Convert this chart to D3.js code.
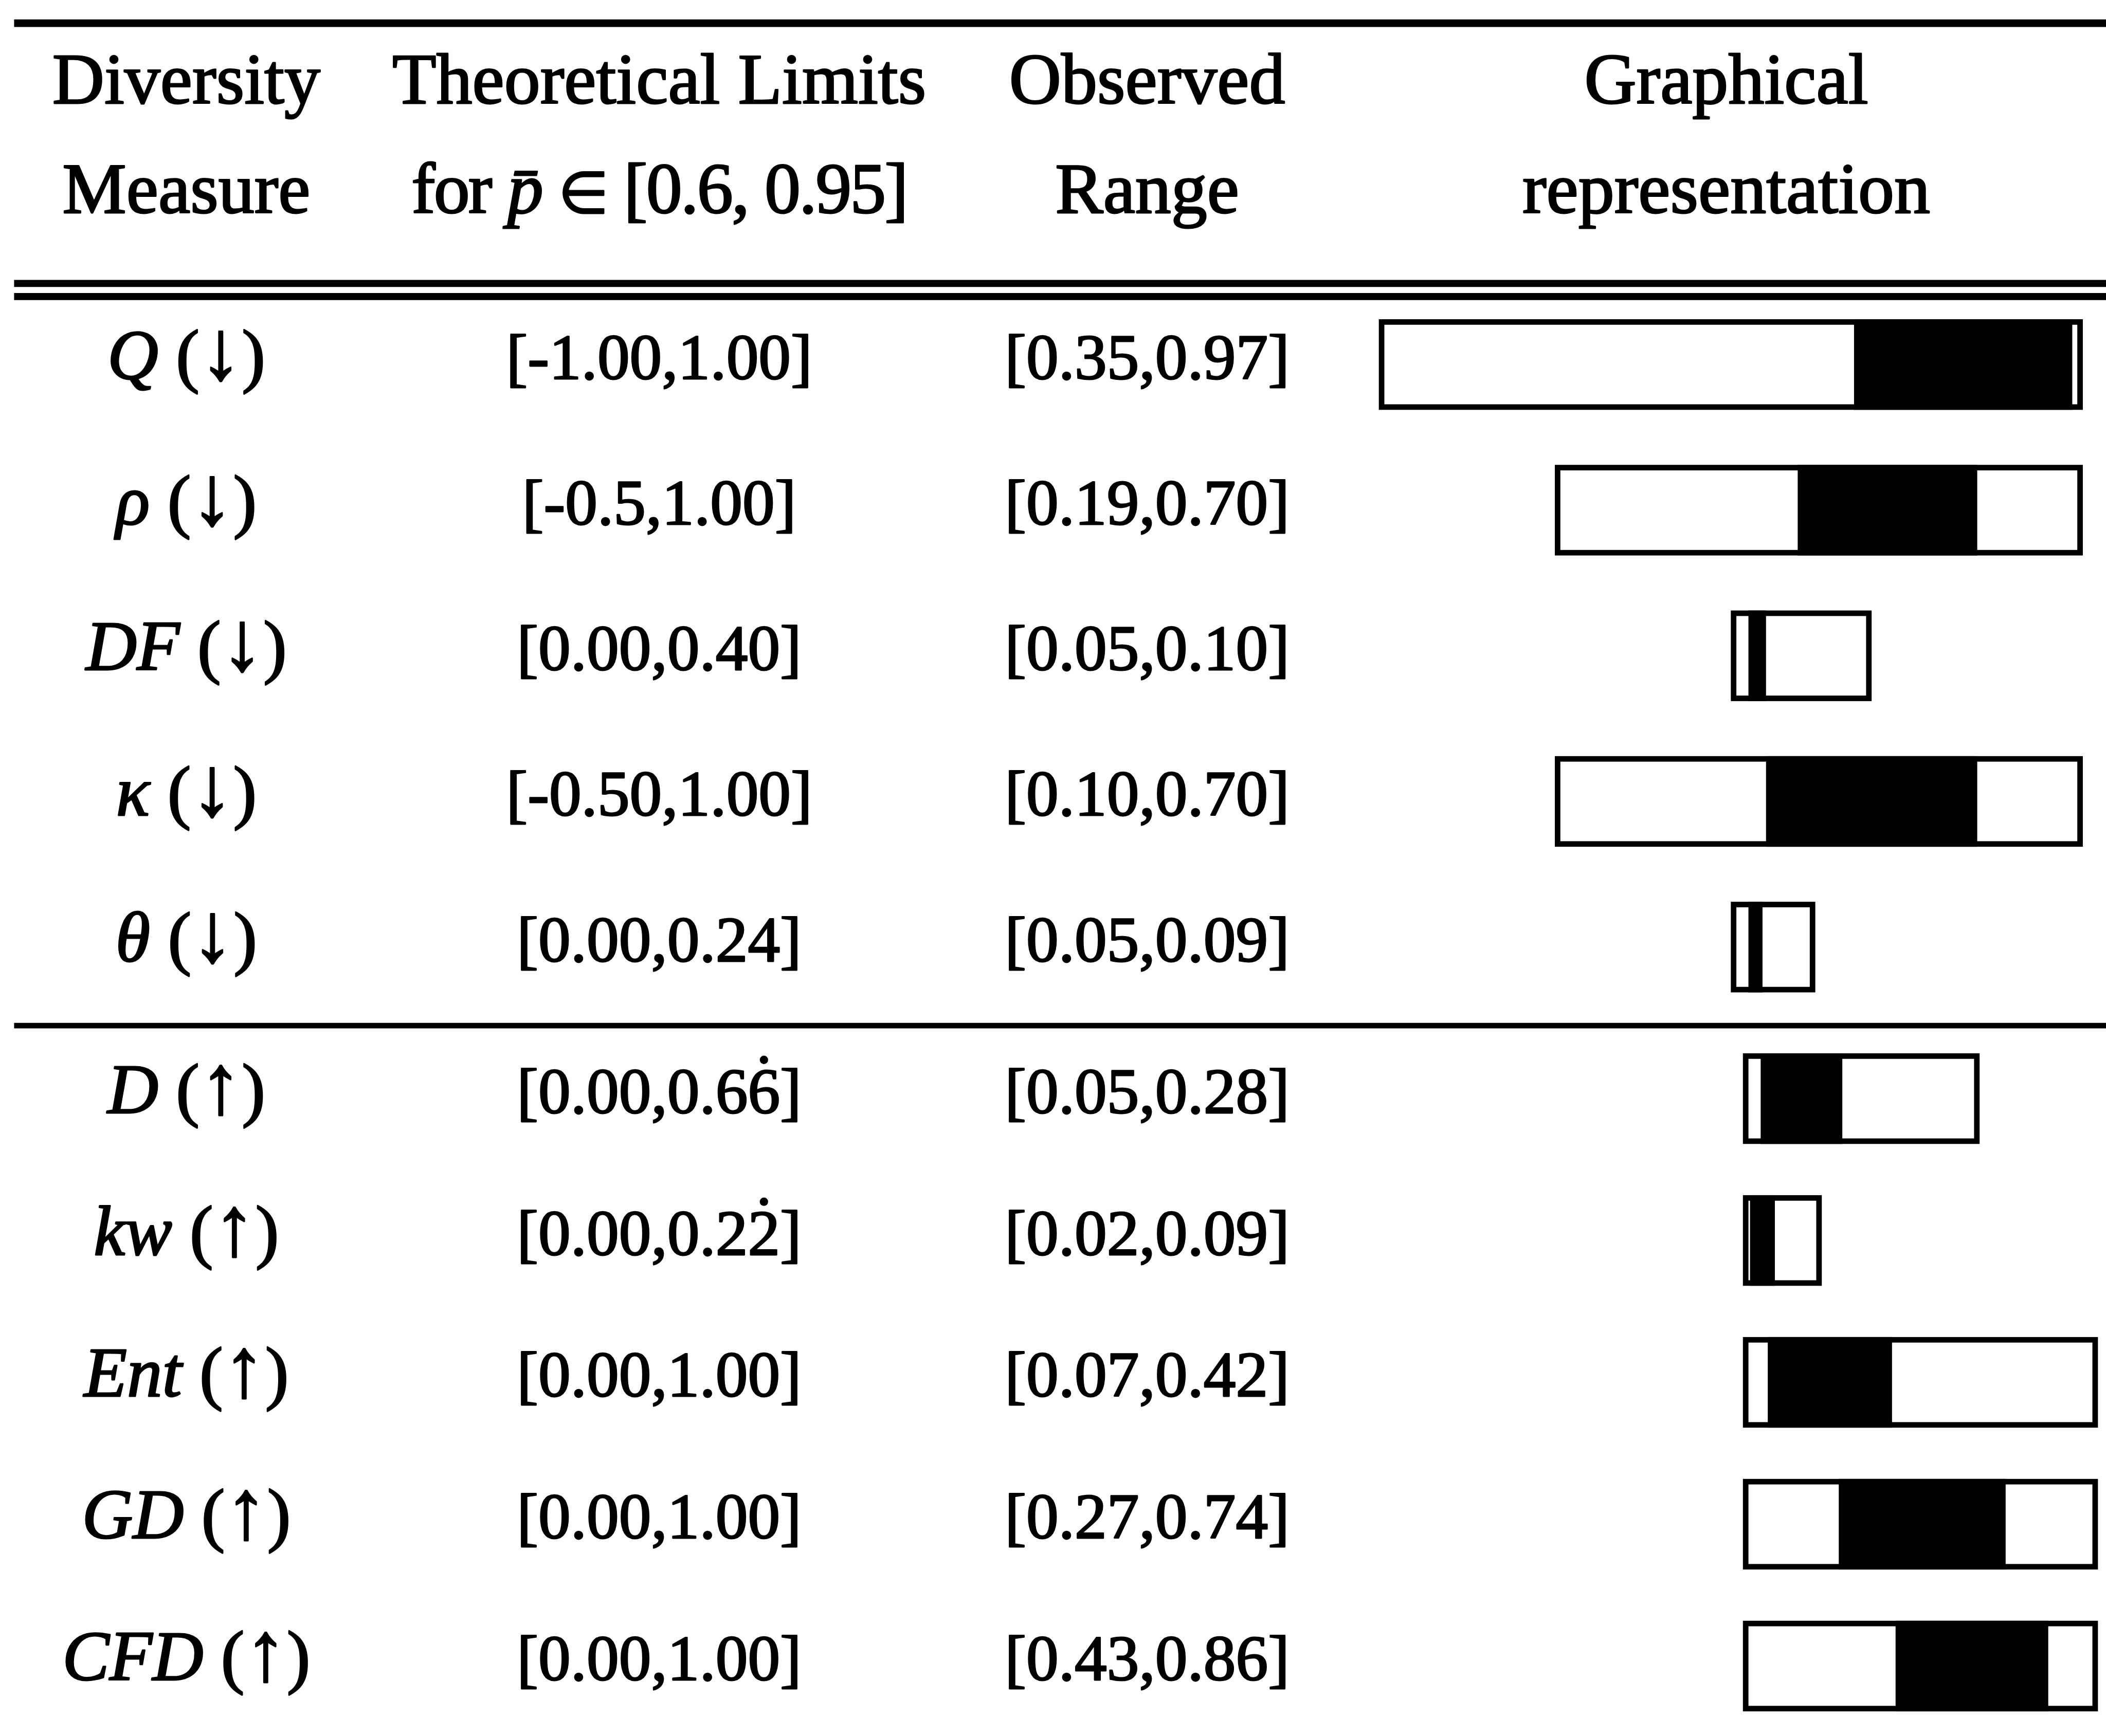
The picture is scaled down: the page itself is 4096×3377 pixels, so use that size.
<!DOCTYPE html>
<html><head><meta charset="utf-8">
<script src="https://cdn.jsdelivr.net/npm/d3@7"></script>
<style>
html,body{margin:0;padding:0;background:#fff;}
svg{display:block;}
</style></head>
<body>
<svg id="chart" width="4096" height="3377"></svg>
<script>
// Diversity measures, their theoretical limits and the observed ranges
const measures   = ["Q", "ρ", "DF", "κ", "θ", "D", "kw", "Ent", "GD", "CFD"];
const directions = ["↓", "↓", "↓", "↓", "↓", "↑", "↑", "↑", "↑", "↑"];
const groups     = [0, 0, 0, 0, 0, 1, 1, 1, 1, 1];
const theoLow    = [-1.00, -0.5, 0.00, -0.50, 0.00, 0.00, 0.00, 0.00, 0.00, 0.00];
const theoHigh   = [1.00, 1.00, 0.40, 1.00, 0.24, 0.6667, 0.2222, 1.00, 1.00, 1.00];
// a combining dot (U+0307) marks a recurring digit
const theoText   = ["[-1.00,1.00]", "[-0.5,1.00]", "[0.00,0.40]", "[-0.50,1.00]", "[0.00,0.24]",
                    "[0.00,0.66\u0307]", "[0.00,0.22\u0307]", "[0.00,1.00]", "[0.00,1.00]", "[0.00,1.00]"];
const obsLow     = [0.35, 0.19, 0.05, 0.10, 0.05, 0.05, 0.02, 0.07, 0.27, 0.43];
const obsHigh    = [0.97, 0.70, 0.10, 0.70, 0.09, 0.28, 0.09, 0.42, 0.74, 0.86];
const headerTop  = ["Diversity", "Theoretical Limits", "Observed", "Graphical"];
const headerBot  = ["Measure", null, "Range", "representation"];

const rows = measures.map((m, i) => ({
  m, dir: directions[i], g: groups[i],
  tLo: theoLow[i], tHi: theoHigh[i], tTxt: theoText[i],
  oLo: obsLow[i], oHi: obsHigh[i]
}));

const FONT = "'Liberation Serif','Times New Roman',serif";
const W = 4182, H = 3448, S = 4096 / W;

const svg = d3.select("#chart");
const root = svg.append("g").attr("transform", `scale(${S})`);
root.append("rect").attr("width", W).attr("height", H).attr("fill", "#fff");

// column centres
const colX = [370, 1309, 2278, 3428];

// row positions: two blocks separated by a rule
const yTop = d3.scalePoint().domain(measures.slice(0, 5)).range([752, 1909]);
const yBot = d3.scalePoint().domain(measures.slice(5)).range([2210, 3337]);
const baseY = r => (r.g === 0 ? yTop : yBot)(r.m);

// value axes of the graphical column, one per block
const xTop = d3.scaleLinear().domain([-1, 1]).range([2738, 4136]);
const xBot = d3.scaleLinear().domain([0, 1]).range([3461, 4166]);
const xOf = r => (r.g === 0 ? xTop : xBot);

const ink = sel => sel.attr("fill", "#000").attr("stroke", "#000")
  .attr("stroke-width", 3).attr("stroke-linejoin", "round")
  .attr("font-family", FONT);

// horizontal rules
const rules = [
  { y: 46, w: 15 },
  { y: 563, w: 14 },
  { y: 589, w: 14 },
  { y: 2037, w: 11 }
];
root.selectAll("line.rule").data(rules).join("line")
  .attr("class", "rule")
  .attr("x1", 28).attr("x2", W)
  .attr("y1", d => d.y).attr("y2", d => d.y)
  .attr("stroke", "#000").attr("stroke-width", d => d.w);

// header
const HFS = 143;
root.selectAll("text.h1").data(headerTop).join("text")
  .attr("class", "h1")
  .attr("x", (d, i) => colX[i]).attr("y", 205)
  .attr("text-anchor", "middle").attr("font-size", HFS)
  .call(ink).text(d => d);

headerBot.forEach((t, i) => {
  const tx = root.append("text")
    .attr("x", colX[i]).attr("y", 423)
    .attr("text-anchor", "middle").attr("font-size", HFS)
    .call(ink);
  if (t) { tx.text(t); return; }
  tx.attr("letter-spacing", -3);
  tx.append("tspan").text("for ");
  tx.append("tspan").attr("font-style", "italic").text("p\u0304");
  tx.append("tspan").text(" ");
  tx.append("tspan").attr("font-size", HFS * 0.8).text("\u2208");
  tx.append("tspan").text(" [0.6, 0.95]");
});

// measure names
const LFS = 140;
const lab = root.selectAll("text.lab").data(rows).join("text")
  .attr("class", "lab")
  .attr("x", colX[0]).attr("y", baseY)
  .attr("text-anchor", "middle").attr("font-size", LFS)
  .call(ink);
lab.append("tspan").attr("font-style", "italic").text(d => d.m + " ");
lab.append("tspan").text("(");
lab.append("tspan").attr("font-size", LFS * 1.2).text(d => d.dir);
lab.append("tspan").text(")");

// theoretical limits; a recurring digit gets a dot drawn above its glyph
const DFS = 128;
root.selectAll("text.theo").data(rows).join("text")
  .attr("class", "theo")
  .attr("x", colX[1]).attr("y", baseY)
  .attr("text-anchor", "middle").attr("font-size", DFS)
  .call(ink)
  .text(d => d.tTxt.replace("\u0307", ""))
  .each(function (d) {
    const k = d.tTxt.indexOf("\u0307");
    if (k < 0) return;
    const box = this.getExtentOfChar(k - 1);
    root.append("circle")
      .attr("class", "recur")
      .attr("cx", box.x + box.width / 2)
      .attr("cy", baseY(d) - DFS * 0.82)
      .attr("r", DFS * 0.065)
      .attr("fill", "#000");
  });

// observed ranges
const f2 = d3.format(".2f");
root.selectAll("text.obs").data(rows).join("text")
  .attr("class", "obs")
  .attr("x", colX[2]).attr("y", baseY)
  .attr("text-anchor", "middle").attr("font-size", DFS)
  .call(ink).text(d => `[${f2(d.oLo)},${f2(d.oHi)}]`);

// graphical representation: outlined theoretical interval, filled observed range
const BH = 180, SW = 11, OFF = 28;
root.selectAll("rect.limit").data(rows).join("rect")
  .attr("class", "limit")
  .attr("x", d => xOf(d)(d.tLo) + SW / 2)
  .attr("width", d => xOf(d)(d.tHi) - xOf(d)(d.tLo) - SW)
  .attr("y", d => baseY(d) - OFF - BH / 2 + SW / 2)
  .attr("height", BH - SW)
  .attr("fill", "none").attr("stroke", "#000").attr("stroke-width", SW);

root.selectAll("rect.obsbar").data(rows).join("rect")
  .attr("class", "obsbar")
  .attr("x", d => xOf(d)(d.oLo))
  .attr("width", d => xOf(d)(d.oHi) - xOf(d)(d.oLo))
  .attr("y", d => baseY(d) - OFF - BH / 2)
  .attr("height", BH)
  .attr("fill", "#000");
</script>
</body></html>
